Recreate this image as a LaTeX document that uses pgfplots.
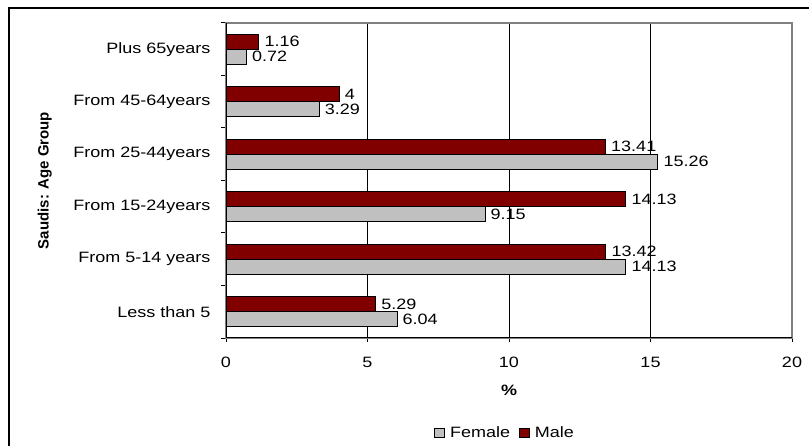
\documentclass[border=0pt]{standalone}
\usepackage{fontspec}
\setmainfont{Liberation Sans}[FakeStretch=1.2]
\newfontfamily\labelfont{Liberation Sans}
\usepackage{pgfplots}
\pgfplotsset{compat=1.18}
\definecolor{femalegray}{HTML}{C0C0C0}
\definecolor{malered}{HTML}{800000}
\definecolor{framegray}{HTML}{808080}
\pgfplotsset{
  boxlegend/.style={
    legend image code/.code={\draw[##1, line width=0.8bp] (0bp,-4.5bp) rectangle (10bp,4.5bp);}
  }
}

\begin{document}
\begin{tikzpicture}[font=\fontsize{15bp}{18bp}\selectfont]
\useasboundingbox (0,0) rectangle (809bp,446bp);
% outer frame (left and top edges)
\draw[line width=2bp] (9bp,0) -- (9bp,438bp) -- (809bp,438bp);
\begin{axis}[
  at={(226bp,108bp)}, anchor=south west,
  scale only axis, width=566bp, height=315bp,
  xbar, bar width=0.286,
  xmin=0, xmax=20, ymin=-0.5, ymax=5.5,
  xtick={0,5,10,15,20},
  ytick={0,...,5},
  yticklabels={Less than 5, From 5-14 years, From 15-24years, From 25-44years, From 45-64years, Plus 65years},
  minor ytick={-0.5,0.5,...,5.5},
  tick align=outside, tick pos=left,
  major tick length=4bp, minor tick length=5bp,
  major y tick style={draw=none},
  minor y tick style={black, line width=1bp},
  major x tick style={black, line width=1bp},
  xmajorgrids, grid style={black, line width=1bp},
  axis line style={framegray, line width=1.5bp},
  /pgf/number format/assume math mode=true,
  yticklabel style={xshift=-8bp},
  xticklabel style={yshift=-12bp},
  xlabel={\bfseries\%},
  xlabel style={at={(axis description cs:0.5,-0.165)}, anchor=center},
  ylabel={\labelfont\bfseries Saudis: Age Group},
  ylabel style={at={(axis description cs:-0.32,0.5)}, anchor=center},
  nodes near coords,
  nodes near coords style={text=black, xshift=2bp},
  legend style={at={(axis description cs:0.493,-0.302)}, anchor=center,
    draw=none, legend columns=-1,
    /tikz/every odd column/.append style={column sep=3bp},
    /tikz/every even column/.append style={column sep=7bp}},
]
\addplot[fill=femalegray, draw=black, line width=0.8bp, bar shift=-0.143, boxlegend]
  coordinates {(6.04,0) (14.13,1) (9.15,2) (15.26,3) (3.29,4) (0.72,5)};
\addplot[fill=malered, draw=black, line width=0.8bp, bar shift=0.143, boxlegend]
  coordinates {(5.29,0) (13.42,1) (14.13,2) (13.41,3) (4,4) (1.16,5)};
\legend{Female, Male}
\draw[black, line width=1.5bp] (rel axis cs:0,1) -- (rel axis cs:0,0) -- (rel axis cs:1,0);
\end{axis}
\end{tikzpicture}
\end{document}
